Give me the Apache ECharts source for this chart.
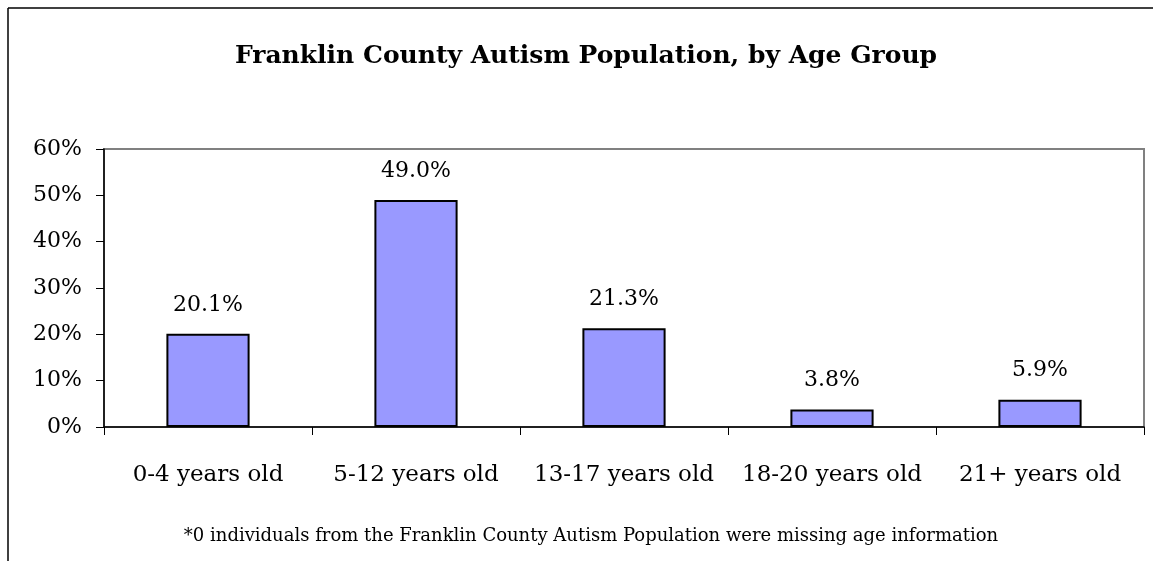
<!DOCTYPE html>
<html>
<head>
<meta charset="utf-8">
<script src="https://cdn.jsdelivr.net/npm/echarts@6/dist/echarts.min.js"></script>
<style>
html,body{margin:0;padding:0;background:#fff;}
#chart{width:1153px;height:561px;}
</style>
</head>
<body>
<div id="chart"></div>
<script>
const titleText = 'Franklin County Autism Population, by Age Group';
const footnote = '*0 individuals from the Franklin County Autism Population were missing age information';
const categories = ['0-4 years old', '5-12 years old', '13-17 years old', '18-20 years old', '21+ years old'];
const shares = [0.201, 0.490, 0.213, 0.038, 0.059];
const yTicks = [0, 0.1, 0.2, 0.3, 0.4, 0.5, 0.6];

const FONT = '"DejaVu Serif", serif';
const chart = echarts.init(document.getElementById('chart'));
chart.setOption({
  animation: false,
  backgroundColor: '#fff',
  grid: {
    left: 104, right: 9, top: 149, bottom: 134,
    show: true, borderColor: '#808080', borderWidth: 2, backgroundColor: 'transparent'
  },
  xAxis: {
    type: 'category',
    data: categories,
    axisLine: {lineStyle: {color: '#000', width: 1.5}},
    axisTick: {show: true, interval: 0, length: 8, lineStyle: {color: '#000', width: 1}},
    axisLabel: {interval: 0, fontFamily: FONT, fontSize: 23, color: '#000', margin: 37}
  },
  yAxis: {
    type: 'value',
    min: yTicks[0],
    max: yTicks[yTicks.length - 1],
    interval: 0.1,
    splitLine: {show: false},
    axisLine: {show: true, lineStyle: {color: '#000', width: 1.5}},
    axisTick: {show: true, length: 8, lineStyle: {color: '#000', width: 1}},
    axisLabel: {
      fontFamily: FONT, fontSize: 22, color: '#000', margin: 22,
      formatter: v => Math.round(v * 100) + '%'
    }
  },
  series: [{
    type: 'bar',
    data: shares,
    barWidth: '40%',
    itemStyle: {color: '#9999FF', borderColor: '#000', borderWidth: 2},
    label: {
      show: true, position: 'top', distance: 18,
      fontFamily: FONT, fontSize: 22, color: '#000',
      formatter: p => (p.value * 100).toFixed(1) + '%'
    }
  }],
  graphic: [
    {type: 'line', shape: {x1: 8, y1: 8, x2: 1153, y2: 8}, style: {stroke: '#000', lineWidth: 1.5}},
    {type: 'line', shape: {x1: 8, y1: 8, x2: 8, y2: 561}, style: {stroke: '#000', lineWidth: 1.5}},
    {
      type: 'text', x: 586, y: 56,
      style: {text: titleText, font: 'bold 25px ' + FONT, fill: '#000', align: 'center', verticalAlign: 'middle'}
    },
    {
      type: 'text', x: 591, y: 536,
      style: {text: footnote, font: '18px ' + FONT, fill: '#000', align: 'center', verticalAlign: 'middle'}
    }
  ]
});
</script>
</body>
</html>
